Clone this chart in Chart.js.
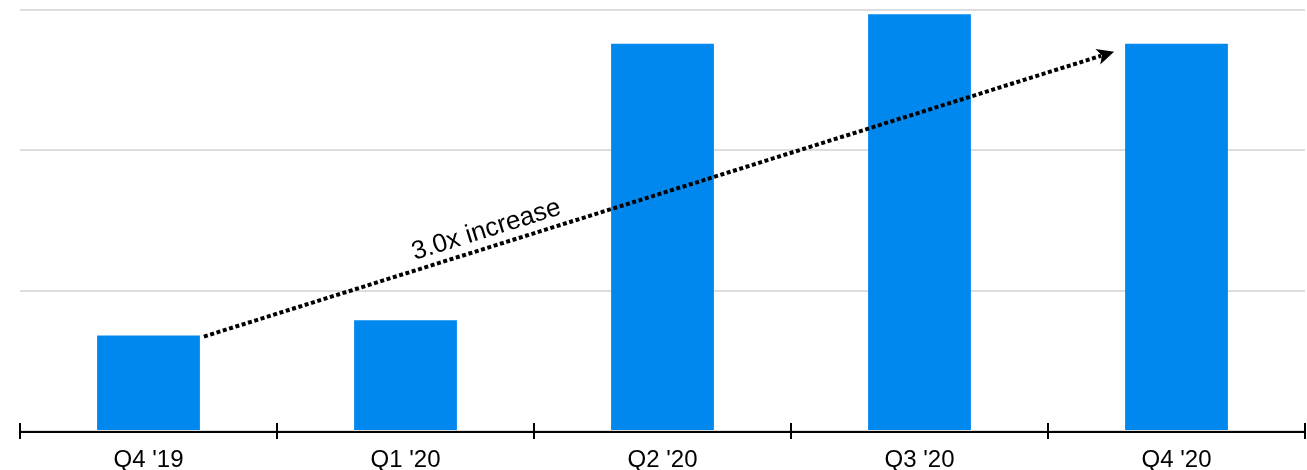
<!DOCTYPE html>
<html>
<head>
<meta charset="utf-8">
<script src="https://cdn.jsdelivr.net/npm/chart.js@4/dist/chart.umd.min.js"></script>
<style>
  html, body { margin: 0; padding: 0; background: #ffffff; }
  #wrap { width: 1307px; height: 470px; position: relative; }
</style>
</head>
<body>
<div id="wrap"><canvas id="chart"></canvas></div>
<script>
// Quarterly values (grid step = 100)
const quarters = ["Q4 '19", "Q1 '20", "Q2 '20", "Q3 '20", "Q4 '20"];
const values = [68, 79, 276, 297, 276];
const yTicks = [0, 100, 200, 300];
const growthLabel = '3.0x increase';

const FONT = "'Liberation Sans', Arial, Helvetica, sans-serif";

// Category boundary ticks that cross the baseline
const axisTicks = {
  id: 'axisTicks',
  afterDraw(chart) {
    const x = chart.scales.x;
    const ctx = chart.ctx;
    const yAxis = chart.chartArea.bottom + 1;
    const n = quarters.length;
    ctx.save();
    ctx.strokeStyle = '#000';
    ctx.lineWidth = 2;
    ctx.beginPath();
    ctx.moveTo(x.left, yAxis);
    ctx.lineTo(x.right, yAxis);
    for (let i = 0; i <= n; i++) {
      const px = Math.round(x.left + i * (x.right - x.left) / n);
      ctx.moveTo(px, yAxis - 9);
      ctx.lineTo(px, yAxis + 7);
    }
    ctx.stroke();
    ctx.restore();
  }
};

// Dotted growth arrow from the first to the last quarter
const growthArrow = {
  id: 'growthArrow',
  afterDatasetsDraw(chart) {
    const bars = chart.getDatasetMeta(0).data;
    const first = bars[0], last = bars[bars.length - 1];
    const x0 = first.x + first.width / 2 + 4;
    const y0 = first.y + 1;
    const x1 = last.x - last.width / 2 - 11;
    const y1 = last.y + 8;
    const ang = Math.atan2(y1 - y0, x1 - x0);
    const ctx = chart.ctx;
    const head = 17;
    ctx.save();
    ctx.strokeStyle = '#000';
    ctx.fillStyle = '#000';
    ctx.lineWidth = 4;
    ctx.setLineDash([4, 2.6]);
    ctx.beginPath();
    ctx.moveTo(x0, y0);
    ctx.lineTo(x1 - head * 0.8 * Math.cos(ang), y1 - head * 0.8 * Math.sin(ang));
    ctx.stroke();
    ctx.setLineDash([]);
    ctx.translate(x1, y1);
    ctx.rotate(ang);
    ctx.beginPath();
    ctx.moveTo(0, 0);
    ctx.lineTo(-head, -8);
    ctx.lineTo(-head * 0.75, 0);
    ctx.lineTo(-head, 8);
    ctx.closePath();
    ctx.fill();
    ctx.restore();

    // label along the arrow
    const t = 0.316;
    const lx = x0 + (x1 - x0) * t;
    const ly = y0 + (y1 - y0) * t;
    ctx.save();
    ctx.translate(lx, ly);
    ctx.rotate(ang);
    ctx.fillStyle = '#000';
    ctx.font = '26px ' + FONT;
    ctx.textAlign = 'center';
    ctx.textBaseline = 'alphabetic';
    ctx.fillText(growthLabel, 0, -10);
    ctx.restore();
  }
};

new Chart(document.getElementById('chart'), {
  type: 'bar',
  data: {
    labels: quarters,
    datasets: [{
      data: values,
      backgroundColor: '#0088ee',
      borderWidth: 0,
      barPercentage: 0.4,
      categoryPercentage: 1.0
    }]
  },
  options: {
    responsive: true,
    maintainAspectRatio: false,
    animation: false,
    layout: { padding: { left: 20, right: 2, top: 10, bottom: 0 } },
    plugins: { legend: { display: false }, tooltip: { enabled: false } },
    scales: {
      x: {
        grid: { display: false },
        border: { display: false },
        afterFit(scale) { scale.height = 39; },
        ticks: {
          color: '#000',
          font: { family: FONT, size: 24 },
          padding: 7,
          maxRotation: 0
        }
      },
      y: {
        min: yTicks[0],
        max: yTicks[yTicks.length - 1],
        afterBuildTicks(scale) { scale.ticks = yTicks.map(v => ({ value: v })); },
        ticks: { display: false },
        border: { display: false },
        grid: { color: '#dddddd', lineWidth: 2, drawTicks: false }
      }
    }
  },
  plugins: [axisTicks, growthArrow]
});
</script>
</body>
</html>
